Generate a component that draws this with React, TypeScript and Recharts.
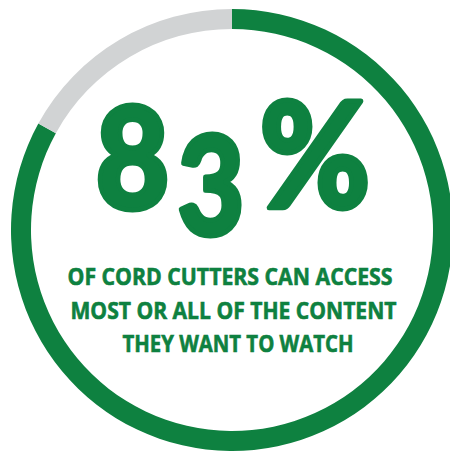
import { PieChart, Pie, Cell } from "recharts";

const segments = ["Can access", "Cannot access"];
const shares = [83, 17];
const colors = ["#0e8140", "#d1d3d4"];
const headlineGlyphs = ["8", "3", "%"];
const captionLines = [
  "OF CORD CUTTERS CAN ACCESS",
  "MOST OR ALL OF THE CONTENT",
  "THEY WANT TO WATCH",
];

const data = segments.map((name, i) => ({ name, value: shares[i] }));

const GREEN = "#0e8140";
const CX = 232;
const CY = 230;

// headline glyphs (old-style look): [dx center, dy baseline, width, fontSize]
const headlineLayout = [
  [-99.5, -21.5, 74, 142],
  [-21, 4.5, 67, 138],
  [83, -22.5, 111, 146],
];

// caption lines: [dx from center, dy of baseline, width]
const captionLayout = [
  [-2, 55, 325],
  [1.5, 88.5, 326],
  [6, 122, 231],
];

function CenterText() {
  return (
    <svg
      width={450}
      height={454}
      style={{ position: "absolute", left: 0, top: 0, pointerEvents: "none" }}
    >
      {headlineGlyphs.map((g, i) => (
        <text
          key={g}
          x={CX + headlineLayout[i][0]}
          y={CY + headlineLayout[i][1]}
          textAnchor="middle"
          fill={GREEN}
          stroke={GREEN}
          strokeWidth={5}
          strokeLinejoin="round"
          fontFamily="Lato, 'Open Sans', sans-serif"
          fontWeight={900}
          fontSize={headlineLayout[i][3]}
          textLength={headlineLayout[i][2]}
          lengthAdjust="spacingAndGlyphs"
        >
          {g}
        </text>
      ))}
      {captionLines.map((line, i) => (
        <text
          key={line}
          x={CX + captionLayout[i][0]}
          y={CY + captionLayout[i][1]}
          textAnchor="middle"
          fill={GREEN}
          stroke={GREEN}
          strokeWidth={0.6}
          fontFamily="'Open Sans', sans-serif"
          fontWeight={700}
          fontSize={23}
          textLength={captionLayout[i][2]}
          lengthAdjust="spacingAndGlyphs"
        >
          {line}
        </text>
      ))}
    </svg>
  );
}

export default function App() {
  return (
    <div style={{ position: "fixed", left: 0, top: 0, width: 450, height: 454, background: "#fff" }}>
      <PieChart width={450} height={454} margin={{ top: 0, right: 0, bottom: 0, left: 0 }}>
        <Pie
          data={data}
          dataKey="value"
          nameKey="name"
          cx={CX}
          cy={CY}
          innerRadius={201}
          outerRadius={221}
          startAngle={90}
          endAngle={-270}
          stroke="none"
          isAnimationActive={false}
        >
          {data.map((d, i) => (
            <Cell key={d.name} fill={colors[i]} />
          ))}
        </Pie>
      </PieChart>
      <CenterText />
    </div>
  );
}
